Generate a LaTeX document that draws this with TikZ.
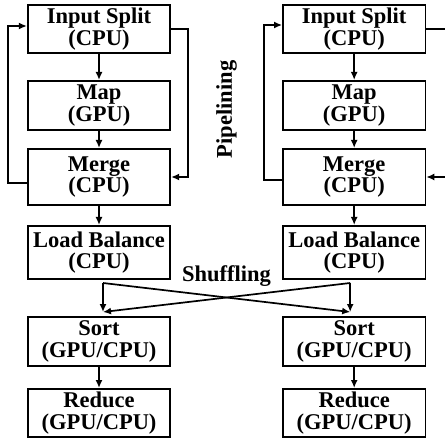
\documentclass[tikz,border=0pt]{standalone}
\usepackage{fontspec}
\setmainfont{Liberation Serif}
\usetikzlibrary{arrows.meta,positioning,calc}

\begin{document}
\begin{tikzpicture}[
  x=1pt, y=1pt,
  node distance=19pt and 111pt,
  stage/.style={
    draw,
    line width=1.7pt,
    minimum width=142.5pt,
    minimum height=49.3pt,
    inner sep=2pt,
    align=center,
    font=\fontsize{22.5}{21.5}\selectfont\bfseries
  },
  tag/.style={inner sep=0pt,font=\fontsize{22.5}{21.5}\selectfont\bfseries},
  flow/.style={-{Latex[length=8pt,width=7pt]},line width=1.7pt}
]
\useasboundingbox (0,0) rectangle (445,-441);
% left worker
\node[stage,minimum height=48.3pt] (split1) at (99,-29) {Input Split\\(CPU)};
\node[stage,below=26pt of split1] (map1) {Map\\(GPU)};
\node[stage,minimum height=56.3pt,below=17pt of map1] (merge1) {Merge\\(CPU)};
\node[stage,minimum height=53.3pt,below=of merge1] (lb1) {Load Balance\\(CPU)};
\node[stage,below=36pt of lb1] (sort1) {Sort\\(GPU/CPU)};
\node[stage,minimum height=48.3pt,below=21pt of sort1] (reduce1) {Reduce\\(GPU/CPU)};
% right worker
\node[stage,minimum height=48.3pt,right=of split1] (split2) {Input Split\\(CPU)};
\node[stage,right=of map1] (map2) {Map\\(GPU)};
\node[stage,minimum height=56.3pt,right=of merge1] (merge2) {Merge\\(CPU)};
\node[stage,minimum height=53.3pt,right=of lb1] (lb2) {Load Balance\\(CPU)};
\node[stage,right=of sort1] (sort2) {Sort\\(GPU/CPU)};
\node[stage,minimum height=48.3pt,right=of reduce1] (reduce2) {Reduce\\(GPU/CPU)};
% labels
\node[tag,rotate=90] (pipe) at ($(map1.east)!0.5!(map2.west)+(0,-4)$) {Pipelining};
\node[tag] (shuffle) at ($(lb1.east)!0.5!(lb2.west)+(0,-24)$) {Shuffling};
% stage arrows
\draw[flow] (split1) -- (map1);
\draw[flow] (map1) -- (merge1);
\draw[flow] (merge1) -- (lb1);
\draw[flow] (sort1) -- (reduce1);
\draw[flow] (split2) -- (map2);
\draw[flow] (map2) -- (merge2);
\draw[flow] (merge2) -- (lb2);
\draw[flow] (sort2) -- (reduce2);
% pipelining loops
\coordinate (rim) at (445,0);
\draw[flow] ([yshift=-6pt]merge1.west) -- ++(-19,0) |- ([yshift=3pt]split1.west);
\draw[flow] (split1.east) -- ++(17,0) |- (merge1.east);
\draw[flow] ([yshift=-3pt]merge2.west) -- ++(-18,0) |- ([yshift=4pt]split2.west);
\draw[line width=1.7pt] (split2.east) -- (split2.east -| rim);
\draw[flow] (merge2.east -| rim) -- (merge2.east);
% shuffling
\coordinate (out1) at ([xshift=4pt,yshift=-3pt]lb1.south);
\coordinate (out2) at ([xshift=-4pt,yshift=-3pt]lb2.south);
\coordinate (in1) at ([xshift=4pt,yshift=4pt]sort1.north);
\coordinate (in2) at ([xshift=-4pt,yshift=4pt]sort2.north);
\draw[flow] (out1) -- (in1);
\draw[flow] (out1) -- (in2);
\draw[flow] (out2) -- (in2);
\draw[flow] (out2) -- (in1);
\end{tikzpicture}
\end{document}
